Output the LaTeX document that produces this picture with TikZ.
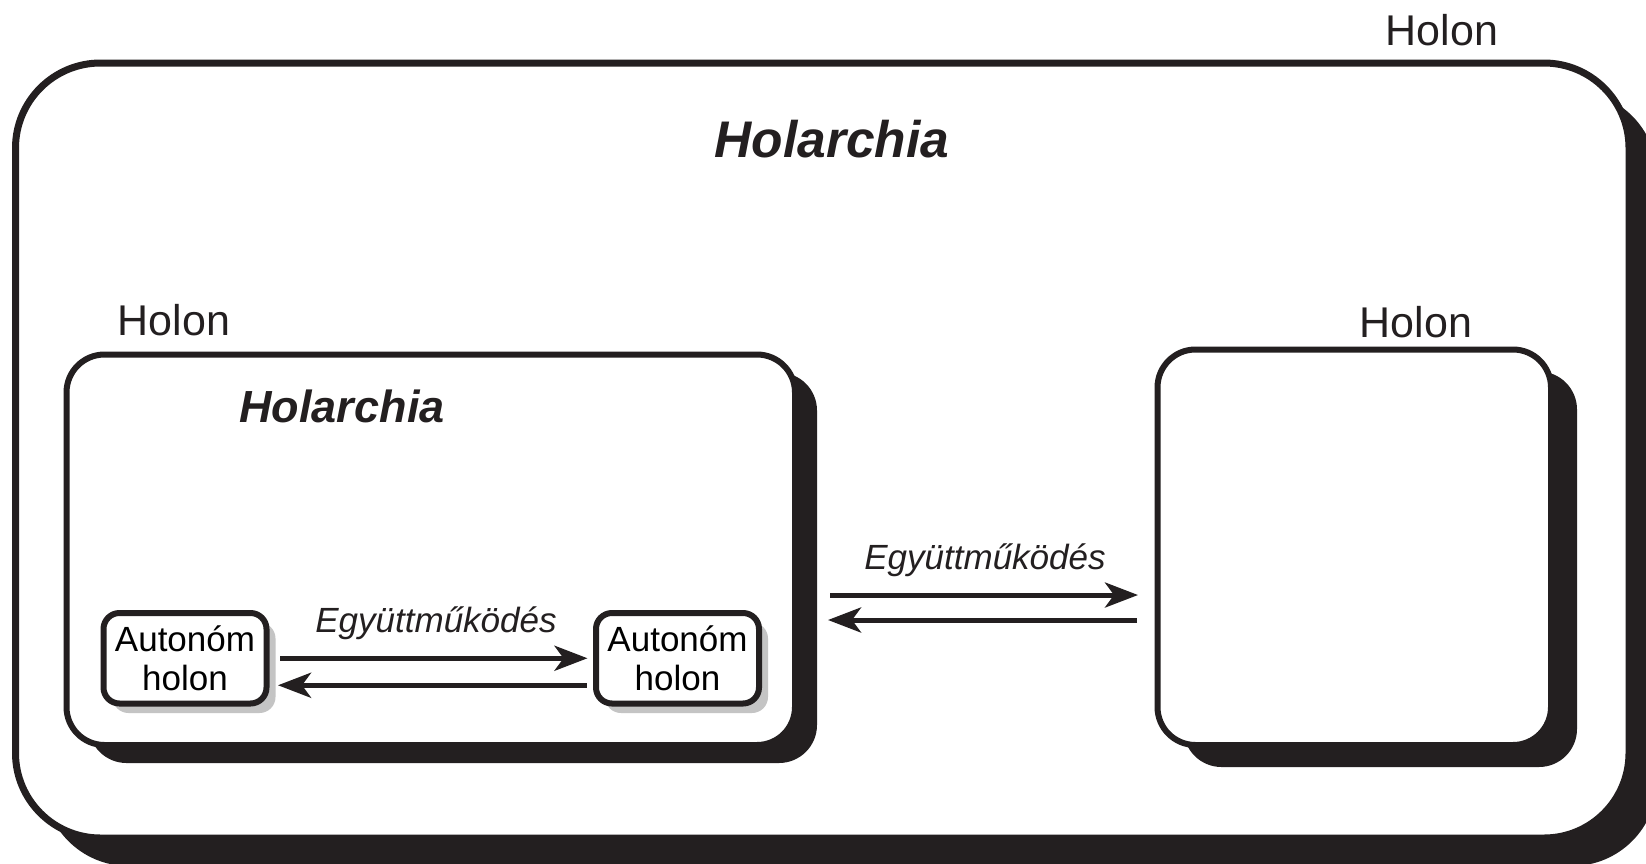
\documentclass[tikz,border=0pt]{standalone}
\usepackage{fontspec}
\setmainfont{Liberation Sans}
\usetikzlibrary{arrows.meta,shadows,calc}
\definecolor{ink}{RGB}{35,31,32}
\definecolor{shade}{RGB}{196,196,196}
\begin{document}
\begin{tikzpicture}[x=1pt,y=-1pt,
  frame/.style={draw=ink, fill=white, rounded corners=#1, inner sep=0pt, outer sep=0pt},
  bigholon/.style={frame=85pt, line width=7pt,
    drop shadow={shadow xshift=28pt, shadow yshift=-28pt, fill=ink, opacity=1}},
  holonbox/.style={frame=38pt, line width=6pt},
  autobox/.style={frame=16pt, line width=6pt, minimum width=163pt, minimum height=90.5pt,
    align=center, font=\fontsize{35}{39}\selectfont,
    drop shadow={shadow xshift=9pt, shadow yshift=-9.5pt, fill=shade, opacity=1}},
  label/.style={anchor=base, inner sep=0pt, text=ink, font=\fontsize{43}{48}\selectfont},
  title/.style={anchor=base, inner sep=0pt, text=ink, font=\fontsize{#1}{#1}\selectfont\bfseries\itshape},
  coop/.style={anchor=base, inner sep=0pt, text=ink, font=\fontsize{35}{39}\selectfont\itshape},
  arr/.style={draw=ink, line width=5pt, -{Stealth[length=33pt,width=25pt,inset=9pt]}}
]
\useasboundingbox (0,0) rectangle (1646,863);
\clip (0,0) rectangle (1646,863);

% outer holon holding the whole holarchy
\node[bigholon, minimum width=1613.5pt, minimum height=775pt] (outer) at (822.25,450.5) {};
\node[label] (holonTop) at (1442,45) {Holon};
\node[title=51.5] (holarchiaTop) at (832,157) {Holarchia};

% left holon: a holarchy of autonomous holons
\node[holonbox, minimum width=728.5pt, minimum height=390.5pt,
  drop shadow={shadow xshift=22pt, shadow yshift=-18pt, fill=ink, opacity=1}] (L) at (430.75,549.75) {};
\node[label] (holonL) at (174,335) {Holon};
\node[title=45] (holarchiaL) at (342,422) {Holarchia};

% right holon
\node[holonbox, minimum width=393.5pt, minimum height=395.5pt,
  drop shadow={shadow xshift=26pt, shadow yshift=-22pt, fill=ink, opacity=1}] (R) at (1354.25,547.25) {};
\node[label] (holonR) at (1416,337) {Holon};

% autonomous holons
\node[autobox] (a) at (185,658.25) {Autonóm\\holon};
\node[autobox] (b) at (677.5,658.25) {Autonóm\\holon};
\node[coop] (coopIn) at (436,632) {Együttműködés};

\draw[arr, shorten <=13.5pt, shorten >=8.5pt] (a.east) -- (b.west);
\draw[arr, shorten <=9.5pt, shorten >=11.5pt] ([yshift=-27pt]b.west) -- ([yshift=-27pt]a.east);

% cooperation between the two holons
\node[coop] (coopOut) at (985,569) {Együttműködés};
\draw[arr, shorten <=35pt, shorten >=19.5pt] ($(L.east)+(0,45.25)$) -- ($(R.west|-L.east)+(0,45.25)$);
\draw[arr, shorten <=20.5pt, shorten >=33pt] ($(R.west|-L.east)+(0,70.25)$) -- ($(L.east)+(0,70.25)$);
\end{tikzpicture}
\end{document}
